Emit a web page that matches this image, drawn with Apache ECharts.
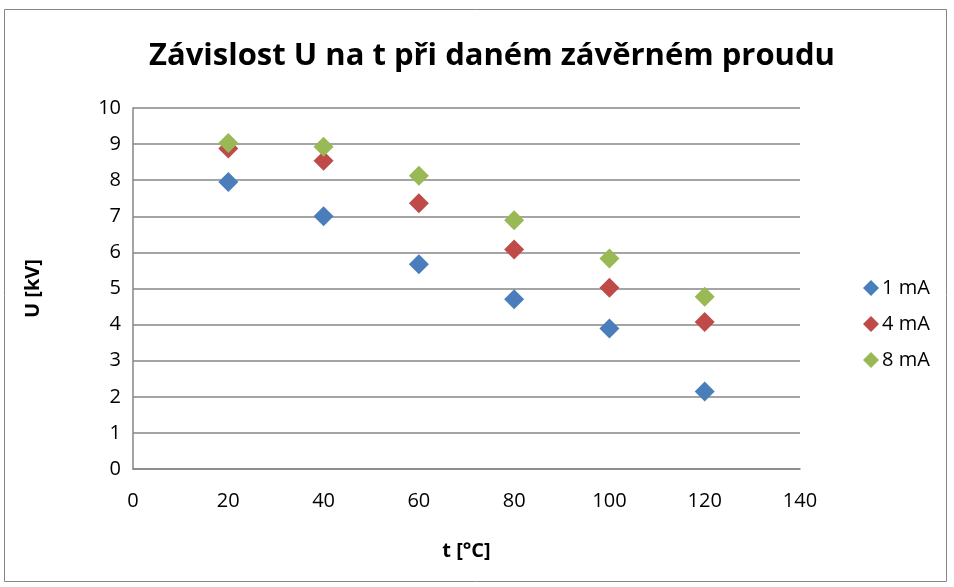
<!DOCTYPE html>
<html><head><meta charset="utf-8">
<script src="https://cdn.jsdelivr.net/npm/echarts@6/dist/echarts.min.js"></script>
<style>html,body{margin:0;padding:0;background:#fff}#c{width:954px;height:587px}</style>
</head><body><div id="c"></div>
<script>
const temps = [20, 40, 60, 80, 100, 120];
const u1mA = [7.95, 7.0, 5.67, 4.70, 3.89, 2.15];
const u4mA = [8.88, 8.54, 7.36, 6.08, 5.02, 4.07];
const u8mA = [9.03, 8.93, 8.12, 6.89, 5.83, 4.77];
const seriesNames = ['1 mA', '4 mA', '8 mA'];
const colors = ['#4a7ebb', '#be4b48', '#98b954'];

const chart = echarts.init(document.getElementById('c'));
const font = "'Open Sans', 'Liberation Sans', sans-serif";
const mk = (name, vals, color) => ({
  name, type: 'scatter', symbol: 'diamond', symbolSize: 20,
  itemStyle: { color, opacity: 1 },
  data: temps.map((t, i) => [t, vals[i]])
});
chart.setOption({
  animation: false,
  title: {
    text: 'Závislost U na t při daném závěrném proudu',
    left: 487, top: 36, textAlign: 'center',
    textStyle: { fontFamily: font, fontWeight: 'bold', fontSize: 31, color: '#000' }
  },
  graphic: [{ type: 'rect', shape: { x: 4.5, y: 9.5, width: 942, height: 572 },
    style: { fill: 'none', stroke: '#868686', lineWidth: 1 }, silent: true }],
  legend: {
    orient: 'vertical', left: 858, top: 273, itemGap: 16,
    itemWidth: 16, itemHeight: 16, icon: 'diamond',
    textStyle: { fontFamily: font, fontSize: 20, color: '#000', padding: [0, 0, 0, -2] },
    data: seriesNames
  },
  grid: { left: 133, right: 154, top: 108, bottom: 118 },
  xAxis: {
    type: 'value', min: 0, max: 140, interval: 20,
    name: 't [°C]', nameLocation: 'middle', nameGap: 72,
    nameTextStyle: { fontFamily: font, fontWeight: 'bold', fontSize: 20, color: '#000' },
    axisLine: { show: true, lineStyle: { color: '#868686', width: 1.5 } },
    axisTick: { show: false },
    axisLabel: { fontFamily: font, fontSize: 20, color: '#000', margin: 22 },
    splitLine: { show: false }
  },
  yAxis: {
    type: 'value', min: 0, max: 10, interval: 1,
    name: 'U [kV]', nameLocation: 'middle', nameGap: 90, nameRotate: 90,
    nameTextStyle: { fontFamily: font, fontWeight: 'bold', fontSize: 20, color: '#000' },
    axisLine: { show: true, lineStyle: { color: '#868686', width: 1.5 } },
    axisTick: { show: false },
    axisLabel: { fontFamily: font, fontSize: 20, color: '#000', margin: 12 },
    splitLine: { show: true, lineStyle: { color: '#868686', width: 1.5 } }
  },
  series: [mk(seriesNames[0], u1mA, colors[0]), mk(seriesNames[1], u4mA, colors[1]), mk(seriesNames[2], u8mA, colors[2])]
});
</script></body></html>
